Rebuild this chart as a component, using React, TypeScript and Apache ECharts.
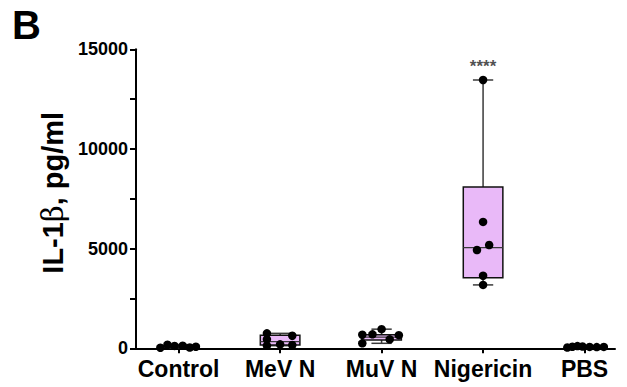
import React, { useEffect, useRef } from "react";
import * as echarts from "echarts";

const categories = ["Control", "MeV N", "MuV N", "Nigericin", "PBS"];
// box stats: [min, q1, median, q3, max]
const boxStats = [
  [30, 60, 100, 130, 180],
  [130, 160, 330, 660, 750],
  [250, 420, 560, 680, 960],
  [3180, 3540, 5050, 8090, 13460],
  [40, 60, 70, 90, 110],
];
// individual points per group
const controlValues = [30, 180, 120, 130, 40, 80];
const controlJitter = [-0.18, -0.11, -0.04, 0.04, 0.11, 0.17];
const mevValues = [750, 632, 450, 200, 130, 165];
const mevJitter = [-0.13, 0.12, -0.13, 0, -0.13, 0.12];
const muvValues = [960, 700, 680, 250, 450, 660];
const muvJitter = [0, -0.09, -0.19, -0.19, 0.08, 0.17];
const nigValues = [13460, 6340, 5180, 4930, 3640, 3180];
const nigJitter = [0, 0, 0.06, -0.06, 0, 0];
const pbsValues = [40, 80, 110, 90, 70, 60, 70];
const pbsJitter = [-0.17, -0.12, -0.07, -0.02, 0.05, 0.12, 0.19];
const significance = "****";
const yTicks = { min: 0, max: 15000, step: 2500, labelStep: 5000 };

const groupValues = [controlValues, mevValues, muvValues, nigValues, pbsValues];
const groupJitter = [controlJitter, mevJitter, muvJitter, nigJitter, pbsJitter];

export default function App() {
  const ref = useRef<HTMLDivElement>(null);
  useEffect(() => {
    if (!ref.current) return;
    const chart = echarts.init(ref.current, undefined, { renderer: "svg" });
    const points: number[][] = [];
    groupValues.forEach((vals, g) => {
      vals.forEach((v, k) => points.push([g + groupJitter[g][k], v]));
    });
    const boxData = boxStats.map((s, i) => [i, ...s]);
    const font = "'Liberation Sans', Arial, sans-serif";
    const renderItem = (params: any, api: any) => {
      const x = api.value(0);
      const mn = api.value(1), q1 = api.value(2), md = api.value(3), q3 = api.value(4), mx = api.value(5);
      const half = api.size([0.195, 0])[0];
      const cap = api.size([0.1, 0])[0];
      const pMin = api.coord([x, mn]);
      const pQ1 = api.coord([x, q1]);
      const pMd = api.coord([x, md]);
      const pQ3 = api.coord([x, q3]);
      const pMax = api.coord([x, mx]);
      const cx = pMin[0];
      const wStyle = { stroke: "#3a3a3a", lineWidth: 1.5 };
      return {
        type: "group",
        children: [
          { type: "line", shape: { x1: cx, y1: pMax[1], x2: cx, y2: pQ3[1] }, style: wStyle },
          { type: "line", shape: { x1: cx, y1: pQ1[1], x2: cx, y2: pMin[1] }, style: wStyle },
          { type: "line", shape: { x1: cx - cap, y1: pMax[1], x2: cx + cap, y2: pMax[1] }, style: wStyle },
          { type: "line", shape: { x1: cx - cap, y1: pMin[1], x2: cx + cap, y2: pMin[1] }, style: wStyle },
          {
            type: "rect",
            shape: { x: cx - half, y: pQ3[1], width: half * 2, height: pQ1[1] - pQ3[1] },
            style: { fill: "#E9B9F8", stroke: "#111", lineWidth: 1.5 },
          },
          { type: "line", shape: { x1: cx - half, y1: pMd[1], x2: cx + half, y2: pMd[1] }, style: { stroke: "#3a3a3a", lineWidth: 1.3 } },
        ],
      };
    };
    chart.setOption({
      animation: false,
      grid: { left: 136, right: 12, top: 49.3, bottom: 38.7, containLabel: false },
      xAxis: {
        type: "value",
        min: -0.42,
        max: 4.3,
        splitLine: { show: false },
        axisLine: { onZero: false, lineStyle: { color: "#000", width: 2 } },
        axisTick: { customValues: [0, 1, 2, 3, 4], length: 5, lineStyle: { color: "#000", width: 2 } },
        axisLabel: {
          customValues: [0, 1, 2, 3, 4],
          formatter: (v: number) => categories[Math.round(v)] ?? "",
          color: "#000",
          fontFamily: font,
          fontWeight: "bold",
          fontSize: 23,
          margin: 9,
        },
      },
      yAxis: {
        type: "value",
        min: yTicks.min,
        max: yTicks.max,
        interval: yTicks.step,
        name: "IL-1{b|β}, pg/ml",
        nameLocation: "middle",
        nameGap: 64,
        nameTextStyle: {
          color: "#000",
          fontFamily: font,
          fontWeight: "bold",
          fontSize: 29,
          padding: [0, 0, 0, 12],
          rich: { b: { fontFamily: "'DejaVu Serif', serif", fontWeight: "normal", fontSize: 29, color: "#000" } },
        },
        splitLine: { show: false },
        axisLine: { show: true, onZero: false, lineStyle: { color: "#000", width: 2 } },
        axisTick: { show: true, length: 6, lineStyle: { color: "#000", width: 2 } },
        axisLabel: {
          formatter: (v: number) => (v % yTicks.labelStep === 0 ? String(v) : ""),
          color: "#000",
          fontFamily: font,
          fontWeight: "bold",
          fontSize: 18,
          margin: 8,
        },
      },
      graphic: [
        {
          type: "text",
          left: 12,
          top: 5,
          style: { text: "B", fontFamily: font, fontWeight: "bold", fontSize: 40, fill: "#000" },
        },
      ],
      series: [
        { type: "custom", renderItem, data: boxData, encode: { x: 0, y: [1, 2, 3, 4, 5] }, z: 2 },
        {
          type: "scatter",
          data: points,
          symbol: "circle",
          symbolSize: 8.5,
          itemStyle: { color: "#000", opacity: 1 },
          z: 3,
        },
        {
          type: "scatter",
          data: [[3, boxStats[3][4]]],
          symbolSize: 0,
          label: {
            show: true,
            position: "top",
            distance: 5,
            formatter: significance,
            color: "#222",
            fontFamily: font,
            fontWeight: "bold",
            fontSize: 17,
          },
          z: 4,
        },
      ],
    });
    return () => chart.dispose();
  }, []);
  return <div ref={ref} style={{ position: "absolute", left: 0, top: 0, width: 627, height: 387 }} />;
}
